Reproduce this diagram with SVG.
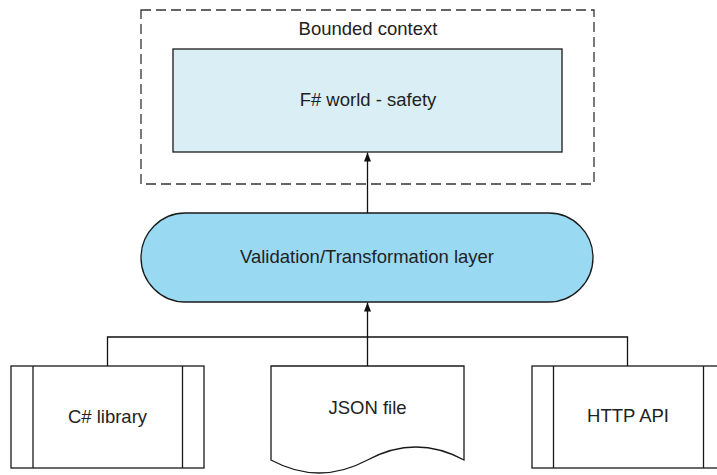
<svg xmlns="http://www.w3.org/2000/svg" width="717" height="475" viewBox="0 0 717 475">
<defs>
<marker id="arr" viewBox="0 0 10 10" refX="10" refY="5" markerWidth="9" markerHeight="7" markerUnits="userSpaceOnUse" orient="auto" preserveAspectRatio="none">
<path d="M0,0 L10,5 L0,10 Z" fill="#111"/>
</marker>
<style>
text{font-family:"Liberation Sans",Arial,sans-serif;font-size:18.5px;fill:#222;text-anchor:middle}
.box{stroke:#1a1a1a;stroke-width:1.3}
.line{stroke:#111;stroke-width:1.3;fill:none}
</style>
</defs>
<rect width="717" height="475" fill="#fff"/>
<g id="bounded-context">
<rect x="141" y="10" width="453" height="174" fill="none" stroke="#333" stroke-width="1.3" stroke-dasharray="10,5"/>
<text x="368" y="35">Bounded context</text>
</g>
<g id="fsharp-world">
<rect class="box" x="173" y="49" width="389" height="103" fill="#daeff5"/>
<text x="368" y="106">F# world - safety</text>
</g>
<g id="validation-layer">
<rect class="box" x="141" y="213" width="452" height="89" rx="44.5" ry="44.5" fill="#99d9f2"/>
<text x="367" y="263">Validation/Transformation layer</text>
</g>
<g id="csharp-library">
<rect class="box" x="11" y="366" width="193" height="102" fill="#fff"/>
<line class="box" x1="33" y1="366" x2="33" y2="468"/>
<line class="box" x1="182.5" y1="366" x2="182.5" y2="468"/>
<text x="107.5" y="423">C# library</text>
</g>
<g id="json-file">
<path class="box" d="M271,366 H464 V460 Q416,434 367.5,460 Q319,486 271,460 Z" fill="#fff"/>
<text x="367.5" y="414">JSON file</text>
</g>
<g id="http-api">
<rect class="box" x="532" y="366" width="193" height="102" fill="#fff"/>
<line class="box" x1="553.5" y1="366" x2="553.5" y2="468"/>
<line class="box" x1="703.5" y1="366" x2="703.5" y2="468"/>
<text x="628" y="422">HTTP API</text>
</g>
<g id="connectors">
<polyline class="line" points="107.5,366 107.5,337 627.5,337 627.5,366"/>
<line class="line" x1="367.5" y1="366" x2="367.5" y2="337"/>
<line class="line" x1="367.5" y1="337" x2="367.5" y2="302.5" marker-end="url(#arr)"/>
<line class="line" x1="367.5" y1="213" x2="367.5" y2="152.5" marker-end="url(#arr)"/>
</g>
</svg>
